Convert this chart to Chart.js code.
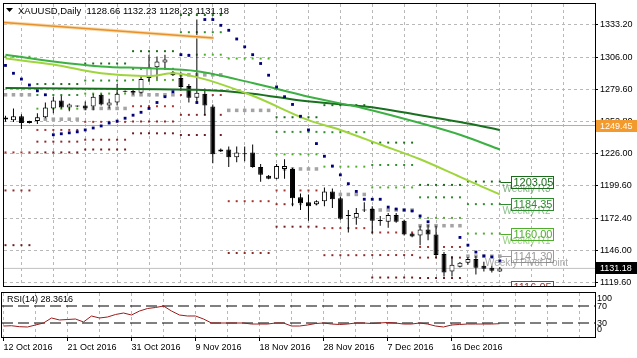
<!DOCTYPE html>
<html>
<head>
<meta charset="utf-8">
<title>XAUUSD Daily</title>
<script src="https://cdn.jsdelivr.net/npm/chart.js@4.4.1/dist/chart.umd.min.js"></script>
<style>
  body { margin: 0; background: #ffffff; }
  #main { position: absolute; left: 0; top: 0; }
  #rsi { position: absolute; left: 0; top: 290px; }
</style>
</head>
<body>
<canvas id="main" width="637" height="290"></canvas>
<canvas id="rsi" width="637" height="68"></canvas>
<script>
// ---- values ----
const symbol = 'XAUUSD,Daily';
const lastQuote = ['1128.66', '1132.23', '1128.23', '1131.18'];

// one entry per daily bar, 12 Oct 2016 .. 23 Dec 2016 (Sunday bars included)
const opens = [1256.0, 1253.9, 1257.1, 1251.5, 1253.1, 1256.3, 1263.6, 1270.1, 1264.4, 1265.5,
  1266.0, 1265.2, 1274.9, 1266.0, 1268.5, 1277.4, 1278.0, 1276.6, 1288.7, 1297.6,
  1301.7, 1293.6, 1288.7, 1282.2, 1272.5, 1275.8, 1265.2, 1228.0, 1229.6, 1223.2,
  1225.9, 1227.2, 1215.1, 1207.8, 1205.4, 1213.5, 1213.5, 1190.0, 1185.9, 1184.3,
  1186.8, 1194.9, 1189.2, 1174.6, 1173.0, 1179.2, 1180.3, 1170.4, 1169.8, 1175.4,
  1170.6, 1160.0, 1158.4, 1163.3, 1159.2, 1143.1, 1128.5, 1132.6, 1135.8, 1139.0,
  1133.4, 1131.7, 1128.66];
const highs = [1257.5, 1263.6, 1258.8, 1253.5, 1259.6, 1268.5, 1273.3, 1274.1, 1267.7, 1266.0,
  1269.3, 1275.8, 1275.8, 1271.7, 1283.8, 1278.5, 1279.5, 1291.1, 1308.1, 1306.5,
  1308.1, 1294.5, 1293.6, 1283.8, 1337.2, 1280.0, 1266.9, 1230.5, 1232.1, 1232.1,
  1232.1, 1233.7, 1217.5, 1208.5, 1217.5, 1221.5, 1214.5, 1193.2, 1192.4, 1187.5,
  1198.1, 1197.3, 1190.5, 1179.5, 1181.1, 1186.0, 1182.7, 1174.6, 1177.0, 1177.0,
  1171.4, 1160.5, 1166.5, 1167.3, 1166.5, 1144.7, 1141.5, 1136.5, 1140.6, 1141.5,
  1136.6, 1133.4, 1132.23];
const lows = [1252.5, 1252.3, 1246.6, 1251.2, 1250.7, 1255.5, 1259.6, 1263.6, 1261.2, 1264.8,
  1262.0, 1262.0, 1266.0, 1263.6, 1266.0, 1277.0, 1275.0, 1276.0, 1285.5, 1287.9,
  1296.0, 1290.5, 1278.2, 1268.5, 1268.5, 1258.0, 1218.3, 1227.5, 1215.1, 1219.1,
  1219.9, 1214.5, 1203.0, 1205.0, 1205.0, 1205.4, 1182.7, 1179.5, 1170.6, 1183.5,
  1182.7, 1181.1, 1171.4, 1160.8, 1167.3, 1177.8, 1160.0, 1166.5, 1164.9, 1169.0,
  1158.4, 1157.0, 1150.4, 1154.4, 1139.8, 1124.5, 1124.5, 1132.0, 1134.2, 1126.1,
  1128.5, 1127.7, 1128.23];
const closes = [1254.5, 1257.1, 1251.5, 1253.1, 1256.3, 1264.4, 1270.1, 1264.4, 1266.9, 1265.2,
  1263.6, 1273.3, 1266.9, 1268.5, 1275.8, 1278.0, 1276.5, 1287.9, 1297.6, 1302.5,
  1304.1, 1291.1, 1281.4, 1272.5, 1276.6, 1266.0, 1225.6, 1229.6, 1223.2, 1227.2,
  1225.6, 1215.1, 1208.6, 1205.4, 1215.9, 1215.9, 1189.2, 1185.1, 1182.7, 1186.8,
  1194.9, 1188.4, 1172.2, 1174.8, 1177.0, 1179.5, 1170.6, 1170.6, 1175.4, 1169.8,
  1159.2, 1157.6, 1163.3, 1159.2, 1142.3, 1127.7, 1134.2, 1135.8, 1139.0, 1131.7,
  1130.9, 1129.3, 1131.18];

// parabolic SAR dots (null where hidden behind candles)
const sarValues = [1299.2, 1292.7, 1287.9, 1283.0, 1278.2, 1274.9, 1241.8, 1242.6, 1243.4, 1244.2,
  1245.8, 1247.4, 1249.1, 1251.5, 1253.1, 1255.5, 1258.0, 1260.4, 1263.6, 1268.5,
  1273.3, 1277.4, 1308.1, 1307.5, 1268.5, 1337.2, 1337.2, 1332.4, 1328.3, 1321.1,
  1314.6, 1308.1, 1300.8, 1291.1, 1281.4, 1273.3, 1266.9, 1257.1, 1245.8, 1234.5,
  1224.0, 1215.9, 1208.6, 1201.3, 1194.9, 1188.4, 1188.4, 1188.4, 1181.9, 1180.3,
  1179.5, 1178.7, 1174.6, 1169.8, null, null, null, 1156.8, 1150.4, 1144.7,
  1141.5, 1140.6, 1137.4];

// RSI(14)
const rsiValues = [22.9, 23.6, 21.3, 20.6, 25.3, 30.0, 41.8, 37.1, 38.2, 39.4,
  32.4, 46.5, 41.8, 44.1, 50.0, 53.5, 48.8, 58.2, 64.1, 66.5,
  70.0, 58.2, 48.8, 46.5, 46.5, 39.4, 30.0, 30.0, 30.0, 30.0,
  30.0, 27.6, 27.6, 27.6, 30.0, 30.0, 22.9, 22.9, 25.3, 28.8,
  30.0, 27.6, 26.5, 27.6, 30.0, 30.0, 28.8, 30.0, 31.2, 30.0,
  27.6, 27.6, 30.0, 27.6, 22.9, 20.6, 25.3, 26.5, 27.6, 27.6,
  27.6, 27.6, 28.36];
const rsiText = 'RSI(14) 28.3616';
const rsiLevels = [70, 30];
const rsiAxisLabels = [100, 70, 30, 0];

// moving averages, sampled along the lines (bar index / price)
const maSlowBars = [0, 12, 24, 31, 37, 47, 52, 57, 62];
const maSlowVals = [1280.6, 1279.8, 1279.0, 1275.8, 1270.1, 1263.6, 1257.9, 1252.3, 1245.8];
const maMidBars = [0, 6, 12, 18, 24, 31, 38, 45, 52, 57, 62];
const maMidVals = [1308.1, 1302.5, 1298.4, 1296.8, 1294.4, 1284.6, 1273.3, 1263.6, 1251.5, 1241.8, 1229.6];
const maFastBars = [0, 6, 12, 18, 21, 24, 31, 38, 42, 47, 52, 57, 62];
const maFastVals = [1304.9, 1300.0, 1292.7, 1290.3, 1292.7, 1289.5, 1274.1, 1253.9, 1245.8, 1233.7, 1221.5, 1207.0, 1192.4];

// orange trend line at the top
const trendBars = [-0.19, 26.1];
const trendVals = [1334.8, 1321.9];

// horizontal price lines
const supportLine = 1249.45;
const bidLine = 1131.18;

// weekly pivot levels, one value per week
const weekStart = [0, 4, 10, 16, 22, 28, 34, 40, 46, 52, 58];
const weekEnd = [3, 9, 15, 21, 27, 33, 39, 45, 51, 57, 62];
const pivR3 = [null, 1283.8, 1300.8, 1311.0, 1340.9, null, 1256.3, 1266.3, 1235.3, 1200.3, 1203.05];
const pivR2 = [null, 1274.7, 1286.7, 1296.4, 1326.7, null, 1244.2, 1243.9, 1216.8, 1190.0, 1184.35];
const pivR1 = [1306.4, 1263.4, 1275.9, 1287.2, 1308.1, 1304.9, 1225.6, 1215.4, 1198.2, 1173.0, 1160.00];
const pivP = [1274.9, 1254.7, 1263.6, 1274.9, 1291.4, 1262.0, 1213.5, 1192.4, 1179.5, 1166.5, 1141.30];
const pivS1 = [1227.2, 1245.8, 1252.5, 1265.4, 1274.7, 1186.8, 1195.7, 1164.5, 1160.9, 1148.9, 1116.05];
const pivS2 = [1195.7, 1236.1, 1237.7, 1252.8, 1258.3, 1143.9, 1184.3, 1142.1, 1142.2, 1140.1, null];
const pivS3 = [1150.4, 1227.2, 1229.6, 1243.0, 1241.6, null, 1165.7, null, 1123.6, 1123.2, null];

const levelTagNames = ['Weekly R3', 'Weekly R2', 'Weekly R1', 'Weekly Pivot Point', 'Weekly S1'];
const levelTagValues = [1203.05, 1184.35, 1160.00, 1141.30, 1116.05];

// axes
const priceTicks = [1333.20, 1306.00, 1279.60, 1252.80, 1226.00, 1199.60, 1172.40, 1146.00, 1119.60];
const dateLabels = ['12 Oct 2016', '21 Oct 2016', '31 Oct 2016', '9 Nov 2016', '18 Nov 2016',
  '28 Nov 2016', '7 Dec 2016', '16 Dec 2016'];
const dateLabelBars = [0, 8, 16, 24, 32, 40, 48, 56];

// ---- view settings ----
const xMin = -0.1875, xMax = 73.9375;
const yMin = 1116.59, yMax = 1350.06;
const rsiMin = -2.94, rsiMax = 100.59;
const gridBars = [];
for (let b = 0; b <= 72; b += 4) gridBars.push(b);

const FONT = '"Liberation Sans", Arial, sans-serif';
Chart.defaults.font.family = FONT;
Chart.defaults.font.size = 9;
Chart.defaults.color = '#000';

const lineOf = (bars, vals) => bars.map((b, k) => ({ x: b, y: vals[k] }));

function levelPoints(levels) {
  const pts = [];
  levels.forEach((v, w) => {
    if (v == null) return;
    for (let b = weekStart[w]; b <= weekEnd[w]; b++) pts.push({ x: b, y: v });
  });
  return pts;
}

function dots(levels, color, radius, order) {
  return {
    type: 'line', data: levelPoints(levels), showLine: false,
    pointStyle: 'rect', pointRadius: radius, pointBorderWidth: 0,
    pointBackgroundColor: color, order: order
  };
}

const bodies = closes.map((c, i) => ({ x: i, y: [opens[i], c] }));
const wicks = closes.map((c, i) => ({ x: i, y: [lows[i], highs[i]] }));
const bodyFill = closes.map((c, i) => c >= opens[i] ? '#ffffff' : '#000000');

const tagColors = ['#1c6b1c', '#2e8b2e', '#4fae2c', '#9a9a9a', '#a33434'];
const captionColors = ['rgba(28,107,28,0.55)', 'rgba(46,139,46,0.55)', 'rgba(79,174,44,0.6)',
  'rgba(130,130,130,0.7)', 'rgba(163,52,52,0.55)'];

const mainDecor = {
  id: 'mainDecor',
  afterDraw(chart) {
    const ctx = chart.ctx, ca = chart.chartArea;
    const xs = chart.scales.x, ys = chart.scales.y;
    ctx.save();

    // weekly level tags
    ctx.save();
    ctx.beginPath();
    ctx.rect(ca.left, ca.top, ca.right - ca.left, ca.bottom - ca.top);
    ctx.clip();
    const xl = Math.round(xs.getPixelForValue(closes.length - 1)) + 0.5;
    levelTagValues.forEach((v, k) => {
      const y = Math.round(ys.getPixelForValue(v)) + 0.5;
      ctx.strokeStyle = tagColors[k];
      ctx.lineWidth = 1;
      ctx.beginPath(); ctx.moveTo(xl, y); ctx.lineTo(xl + 11, y); ctx.stroke();
      ctx.fillStyle = '#ffffff';
      ctx.fillRect(xl + 11, y - 6, 42, 12);
      ctx.strokeRect(xl + 11, y - 6, 42, 12);
      ctx.font = '11px ' + FONT;
      ctx.textBaseline = 'middle';
      ctx.textAlign = 'left';
      ctx.fillStyle = tagColors[k];
      ctx.fillText(v.toFixed(2), xl + 13, y + 0.5);
      ctx.font = '10px ' + FONT;
      ctx.textAlign = 'center';
      ctx.fillStyle = captionColors[k];
      ctx.fillText(levelTagNames[k], xl + 26, y + 7);
    });
    ctx.restore();

    // frame
    ctx.strokeStyle = '#000';
    ctx.lineWidth = 1;
    ctx.strokeRect(ca.left - 0.5, ca.top - 0.5, ca.right - ca.left + 1, ca.bottom - ca.top + 1);

    // price tags on the axis
    const tag = (value, bg) => {
      const y = Math.round(ys.getPixelForValue(value));
      ctx.fillStyle = bg;
      ctx.fillRect(ca.right + 1, y - 6, chart.width - ca.right - 1, 12);
      ctx.fillStyle = '#ffffff';
      ctx.font = '9px ' + FONT;
      ctx.textAlign = 'left';
      ctx.textBaseline = 'middle';
      ctx.fillText(value.toFixed(2), ca.right + 5, y + 0.5);
    };
    tag(supportLine, '#f39a2e');
    tag(bidLine, '#000000');

    // title
    ctx.fillStyle = '#000';
    ctx.beginPath();
    ctx.moveTo(6, 8); ctx.lineTo(13, 8); ctx.lineTo(9.5, 12); ctx.closePath(); ctx.fill();
    ctx.font = '9.5px ' + FONT;
    ctx.textAlign = 'left';
    ctx.textBaseline = 'middle';
    ctx.fillText(symbol + '  ' + lastQuote.join(' '), 18, 11);
    ctx.restore();
  }
};

new Chart(document.getElementById('main'), {
  type: 'bar',
  data: {
    datasets: [
      { type: 'line', data: sarValues.map((v, i) => ({ x: i, y: v })), showLine: false,
        pointStyle: 'rect', pointRadius: 2, pointBorderWidth: 0, pointBackgroundColor: '#00007a', order: 0 },
      { type: 'line', data: lineOf(maFastBars, maFastVals), borderColor: '#9fd53c', borderWidth: 2,
        pointRadius: 0, cubicInterpolationMode: 'monotone', order: 1 },
      { type: 'line', data: lineOf(maMidBars, maMidVals), borderColor: '#3cb043', borderWidth: 2,
        pointRadius: 0, cubicInterpolationMode: 'monotone', order: 2 },
      { type: 'line', data: lineOf(maSlowBars, maSlowVals), borderColor: '#19701e', borderWidth: 2,
        pointRadius: 0, cubicInterpolationMode: 'monotone', order: 3 },
      { type: 'line', data: lineOf(trendBars, trendVals), borderColor: '#e8902a', borderWidth: 1.5,
        pointRadius: 0, order: 4 },
      { type: 'line', data: lineOf(trendBars, trendVals), borderColor: '#f8dcb0', borderWidth: 3.5,
        pointRadius: 0, order: 5 },
      { type: 'bar', data: bodies, backgroundColor: bodyFill, borderColor: '#000', borderWidth: 1,
        borderSkipped: false, barThickness: 5, grouped: false, minBarLength: 1, inflateAmount: 0, order: 6 },
      { type: 'bar', data: wicks, backgroundColor: '#000', borderWidth: 0,
        barThickness: 1, grouped: false, inflateAmount: 0, order: 7 },
      dots(pivR3, '#1c6b1c', 1.4, 8),
      dots(pivR2, '#2e8b2e', 1.4, 9),
      dots(pivR1, '#4fae2c', 1.4, 10),
      dots(pivP, '#a4a4a4', 2.5, 11),
      dots(pivS1, '#a33434', 1.4, 12),
      dots(pivS2, '#8b2a2a', 1.4, 13),
      dots(pivS3, '#6e1e1e', 1.4, 14),
      { type: 'line', data: lineOf([xMin, xMax], [supportLine, supportLine]), borderColor: '#f0a23c',
        borderWidth: 1, pointRadius: 0, order: 15 },
      { type: 'line', data: lineOf([xMin, xMax], [bidLine, bidLine]), borderColor: '#c0c0c0',
        borderWidth: 1, pointRadius: 0, order: 16 }
    ]
  },
  options: {
    responsive: false, animation: false, devicePixelRatio: 1, events: [],
    layout: { padding: { left: 2, top: 2, right: 0, bottom: 1 } },
    plugins: { legend: { display: false }, tooltip: { enabled: false } },
    scales: {
      x: {
        type: 'linear', min: xMin, max: xMax, offset: false,
        afterBuildTicks: s => { s.ticks = gridBars.map(v => ({ value: v })); },
        afterFit: s => { s.height = 0; s.paddingLeft = 0; s.paddingRight = 0; },
        ticks: { display: false },
        grid: { color: '#b8b8b8', drawTicks: false },
        border: { display: false, dash: [3, 3] }
      },
      y: {
        type: 'linear', position: 'right', min: yMin, max: yMax,
        afterBuildTicks: s => { s.ticks = priceTicks.map(v => ({ value: v })); },
        afterFit: s => { s.width = 42; s.paddingTop = 0; s.paddingBottom = 0; },
        ticks: { padding: 2, autoSkip: false, callback: v => v.toFixed(2) },
        grid: { color: '#b8b8b8', tickColor: '#000', tickLength: 3 },
        border: { display: false, dash: [3, 3] }
      }
    }
  },
  plugins: [mainDecor]
});

const rsiDecor = {
  id: 'rsiDecor',
  afterDraw(chart) {
    const ctx = chart.ctx, ca = chart.chartArea, ys = chart.scales.y;
    ctx.save();
    ctx.strokeStyle = '#000';
    ctx.lineWidth = 1;
    ctx.strokeRect(ca.left - 0.5, ca.top - 0.5, ca.right - ca.left + 1, ca.bottom - ca.top + 1);
    ctx.fillStyle = '#000';
    ctx.font = '9px ' + FONT;
    ctx.textBaseline = 'middle';
    ctx.textAlign = 'left';
    ctx.fillText(rsiText, ca.left + 5, ca.top + 7);
    rsiAxisLabels.forEach(v => {
      let y = ys.getPixelForValue(v) + 1;
      y = Math.min(Math.max(y, ca.top + 6), ca.bottom - 7);
      ctx.fillText(String(v), ca.right + 2, y);
    });
    ctx.restore();
  }
};

new Chart(document.getElementById('rsi'), {
  type: 'line',
  data: {
    datasets: [
      { data: rsiValues.map((v, i) => ({ x: i, y: v })), borderColor: '#9a1c1c', borderWidth: 1,
        pointRadius: 0, order: 0 },
      { data: lineOf([xMin, xMax], [rsiLevels[0], rsiLevels[0]]), borderColor: '#000', borderWidth: 1,
        borderDash: [11, 5], pointRadius: 0, order: 1 },
      { data: lineOf([xMin, xMax], [rsiLevels[1], rsiLevels[1]]), borderColor: '#000', borderWidth: 1,
        borderDash: [11, 5], pointRadius: 0, order: 2 }
    ]
  },
  options: {
    responsive: false, animation: false, devicePixelRatio: 1, events: [],
    layout: { padding: { left: 2, top: 3, right: 0, bottom: 0 } },
    plugins: { legend: { display: false }, tooltip: { enabled: false } },
    scales: {
      x: {
        type: 'linear', min: xMin, max: xMax, offset: false,
        afterBuildTicks: s => { s.ticks = gridBars.map(v => ({ value: v })); },
        afterFit: s => { s.height = 21; s.paddingLeft = 0; s.paddingRight = 0; },
        ticks: {
          autoSkip: false, maxRotation: 0, minRotation: 0, align: 'start', padding: 1,
          callback: v => { const k = dateLabelBars.indexOf(v); return k >= 0 ? dateLabels[k] : ''; }
        },
        grid: {
          color: '#b8b8b8', tickLength: 4,
          tickColor: c => dateLabelBars.includes(c.tick.value) ? '#000' : 'rgba(0,0,0,0)'
        },
        border: { display: false, dash: [3, 3] }
      },
      y: {
        type: 'linear', position: 'right', min: rsiMin, max: rsiMax,
        afterFit: s => { s.width = 42; s.paddingTop = 0; s.paddingBottom = 0; },
        ticks: { display: false },
        grid: { display: false },
        border: { display: false }
      }
    }
  },
  plugins: [rsiDecor]
});
</script>
</body>
</html>
